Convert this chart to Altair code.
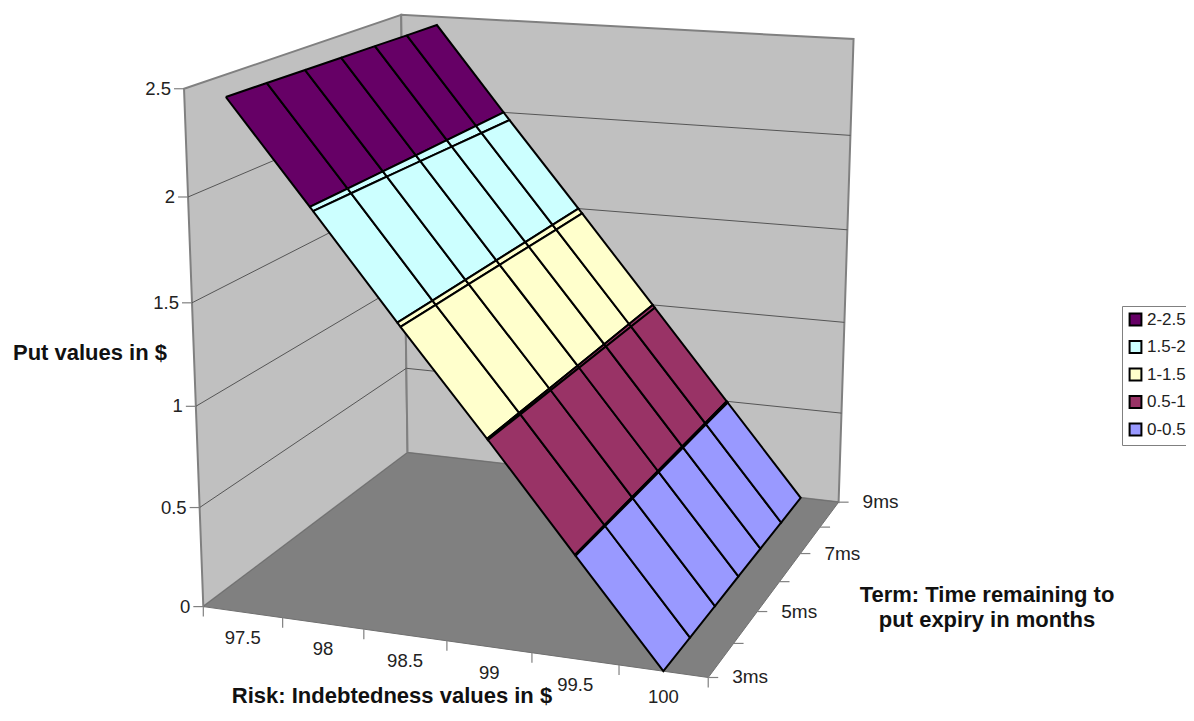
import altair as alt
import numpy as np
import pandas as pd

# ---------- data ----------
RISK_LABELS = ["97.5", "98", "98.5", "99", "99.5", "100"]
TERM_LABELS = ["3ms", "", "5ms", "", "7ms", "", "9ms"]
Z_TICKS = [0, 0.5, 1, 1.5, 2, 2.5]
# put value: one row per risk, one column per term (3..9 months)
PUT_97_5 = [2.475, 2.472, 2.468, 2.465, 2.462, 2.458, 2.455]
PUT_98_0 = [1.982, 1.979, 1.976, 1.972, 1.968, 1.964, 1.960]
PUT_98_5 = [1.482, 1.481, 1.480, 1.479, 1.478, 1.476, 1.475]
PUT_99_0 = [0.995, 0.993, 0.992, 0.990, 0.989, 0.987, 0.985]
PUT_99_5 = [0.496, 0.496, 0.495, 0.495, 0.494, 0.494, 0.493]
PUT_100 = [0.0, 0.0, 0.0, 0.0, 0.0, 0.0, 0.0]
PUT = [PUT_97_5, PUT_98_0, PUT_98_5, PUT_99_0, PUT_99_5, PUT_100]
BANDS = ["2-2.5", "1.5-2", "1-1.5", "0.5-1", "0-0.5"]
BAND_LOW = [2.0, 1.5, 1.0, 0.5, 0.0]
BAND_HIGH = [2.5, 2.0, 1.5, 1.0, 0.5]
BAND_COLORS = ["#660066", "#CCFFFF", "#FFFFCC", "#993366", "#9999FF"]

# ---------- camera: box coordinates (risk 0-1, term 0-1, value) to page pixels ----------
CAMERA_BOX = [(0, 0, 0), (1, 0, 0), (1, 1, 0), (0, 1, 0), (0, 0, 2.5), (0, 1, 2.5),
              (1, 1, 2.5), (1, 1, 2), (0, 0, 2), (11 / 12, 0, 0), (11 / 12, 1, 0)]
CAMERA_PAGE = [(203, 607), (708, 677), (838, 503), (408, 452), (185, 89), (401, 15),
               (854, 39), (850, 135), (187, 197), (664, 671), (801, 498)]


def fit_camera(box, page):
    rows, rhs = [], []
    for (a, b, c), (u, v) in zip(box, page):
        rows.append([a, b, c, 1, 0, 0, 0, 0, -u * a, -u * b, -u * c])
        rhs.append(u)
        rows.append([0, 0, 0, 0, a, b, c, 1, -v * a, -v * b, -v * c])
        rhs.append(v)
    sol = np.linalg.lstsq(np.array(rows, float), np.array(rhs, float), rcond=None)[0]
    return np.append(sol, 1.0).reshape(3, 4)


CAM = fit_camera(CAMERA_BOX, CAMERA_PAGE)


def project(r, t, z):
    p = CAM @ np.array([r, t, z, 1.0])
    return p[0] / p[2], p[1] / p[2]


def path(rows, pid, pts, **extra):
    for k, (u, v) in enumerate(pts):
        rows.append(dict(pid=pid, seq=k, px=u, py=v, **extra))


def clip(poly, level, keep_above):
    out = []
    for k, a in enumerate(poly):
        b = poly[(k + 1) % len(poly)]
        ina = a[2] >= level if keep_above else a[2] <= level
        inb = b[2] >= level if keep_above else b[2] <= level
        if ina:
            out.append(a)
        if ina != inb:
            f = (level - a[2]) / (b[2] - a[2])
            out.append(tuple(a[m] + f * (b[m] - a[m]) for m in range(3)))
    return out


risk_pos = [(i + 0.5) / len(RISK_LABELS) for i in range(len(RISK_LABELS))]
term_pos = [j / (len(TERM_LABELS) - 1) for j in range(len(TERM_LABELS))]

# surface polygons, one per cell and colour band
surf = []
n = 0
for i in range(len(risk_pos) - 1):
    for j in range(len(term_pos) - 1):
        quad = [(risk_pos[i], term_pos[j], PUT[i][j]),
                (risk_pos[i + 1], term_pos[j], PUT[i + 1][j]),
                (risk_pos[i + 1], term_pos[j + 1], PUT[i + 1][j + 1]),
                (risk_pos[i], term_pos[j + 1], PUT[i][j + 1])]
        for band, lo, hi in zip(BANDS, BAND_LOW, BAND_HIGH):
            poly = clip(clip(quad, lo, True), hi, False)
            if len(poly) < 3 or max(p[2] for p in poly) - min(p[2] for p in poly) < 1e-6:
                continue
            pts = [project(*p) for p in poly]
            path(surf, n, pts + pts[:1], band=band)
            n += 1
surf = pd.DataFrame(surf)

# walls and floor
ZMAX = Z_TICKS[-1]
walls = []
path(walls, 0, [project(*p) for p in [(0, 0, 0), (0, 0, ZMAX), (0, 1, ZMAX), (0, 1, 0), (0, 0, 0)]])
path(walls, 1, [project(*p) for p in [(0, 1, 0), (0, 1, ZMAX), (1, 1, ZMAX), (1, 1, 0), (0, 1, 0)]])
walls = pd.DataFrame(walls)
floor = []
path(floor, 0, [project(*p) for p in [(0, 0, 0), (1, 0, 0), (1, 1, 0), (0, 1, 0), (0, 0, 0)]])
floor = pd.DataFrame(floor)

# gridlines
grid = []
for k, z in enumerate(Z_TICKS[1:-1]):
    path(grid, k, [project(0, 0, z), project(0, 1, z), project(1, 1, z)])
grid = pd.DataFrame(grid)

# ticks
TICK = 10
ticks = []
k = 0
z_lab, r_lab, t_lab = [], [], []
for z in Z_TICKS:
    u, v = project(0, 0, z)
    path(ticks, k, [(u, v), (u - TICK, v)])
    k += 1
    z_lab.append(dict(px=u, py=v, label=f"{z:g}"))
for i in range(len(RISK_LABELS) + 1):
    u, v = project(i / len(RISK_LABELS), 0, 0)
    path(ticks, k, [(u, v), (u, v + TICK)])
    k += 1
for lab, r in zip(RISK_LABELS, risk_pos):
    u, v = project(r, 0, 0)
    r_lab.append(dict(px=u, py=v, label=lab))
for lab, t in zip(TERM_LABELS, term_pos):
    u, v = project(1, t, 0)
    path(ticks, k, [(u, v), (u + TICK, v)])
    k += 1
    if lab:
        t_lab.append(dict(px=u, py=v, label=lab))
ticks = pd.DataFrame(ticks)

TITLE_TEXT = ["Put values in $", "Risk: Indebtedness values in $",
              "Term: Time remaining to", "put expiry in months"]
TITLE_X = [90, 392, 987, 987]
TITLE_Y = [353, 696, 595, 620]
TITLE_SIZE = [22, 22, 22, 22]
titles = pd.DataFrame(dict(label=TITLE_TEXT, px=TITLE_X, py=TITLE_Y, size=TITLE_SIZE))

FONT = "Liberation Sans"
W, H = 1178, 700
X = alt.X("px:Q", axis=None, scale=alt.Scale(domain=[8, 8 + W], nice=False, zero=False))
Y = alt.Y("py:Q", axis=None, scale=alt.Scale(domain=[8 + H, 8], nice=False, zero=False))


def shapes(df, **mark):
    return alt.Chart(df).mark_line(**mark).encode(x=X, y=Y, detail="pid:N", order="seq:Q")


wall_layer = shapes(walls, fill="#C0C0C0", stroke="#808080", strokeWidth=2)
grid_layer = shapes(grid, stroke="#555555", strokeWidth=1)
floor_layer = shapes(floor, fill="#808080", stroke="#707070", strokeWidth=1)
tick_layer = shapes(ticks, stroke="#808080", strokeWidth=1.2)

surface_layer = alt.Chart(surf).mark_line(stroke="black", strokeWidth=2).encode(
    x=X, y=Y, detail="pid:N", order="seq:Q",
    fill=alt.Fill("band:N",
                  scale=alt.Scale(domain=BANDS, range=BAND_COLORS),
                  legend=alt.Legend(orient="none", legendX=1114, legendY=298, title=None,
                                    strokeColor="#808080", padding=5,
                                    symbolType="square", symbolSize=140,
                                    symbolStrokeColor="black", symbolStrokeWidth=2,
                                    labelFont=FONT, labelFontSize=17, labelColor="#222222",
                                    rowPadding=6.5, labelOffset=3)),
)


def labels(rows, size, **mark):
    return alt.Chart(pd.DataFrame(rows)).mark_text(font=FONT, fontSize=size, color="#222222", **mark).encode(
        x=X, y=Y, text="label:N")


z_layer = labels(z_lab, 18.5, align="right", dx=-13)
r_layer = labels(r_lab, 18.5, align="center", dy=26)
t_layer = labels(t_lab, 19, align="left", dx=24)
title_layer = alt.Chart(titles).mark_text(font=FONT, fontWeight="bold", color="#111111").encode(
    x=X, y=Y, text="label:N",
    size=alt.Size("size:Q", scale=None))

chart = alt.layer(wall_layer, grid_layer, floor_layer, tick_layer, surface_layer,
                  z_layer, r_layer, t_layer, title_layer).properties(
    width=W, height=H, padding=0, background="white",
    autosize=alt.AutoSizeParams(type="none", contains="content")
).configure_view(strokeWidth=0)

chart.save("out.html", embed_options={"renderer": "svg", "actions": False})
